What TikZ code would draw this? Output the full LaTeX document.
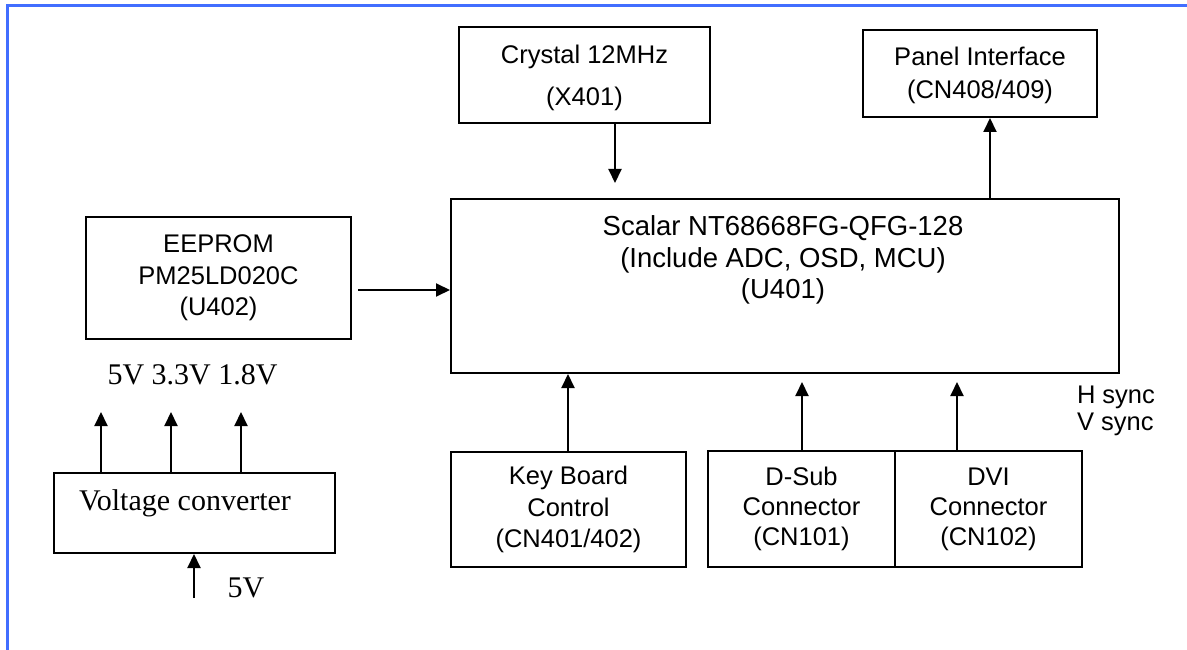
\documentclass[tikz,border=0pt]{standalone}
\usepackage{fontspec}
\setmainfont{Liberation Sans}
\newfontfamily\timesfont{Liberation Serif}
\usetikzlibrary{arrows.meta}
\definecolor{frameblue}{RGB}{65,110,255}
\tikzset{
	block/.style    = {draw, line width=2bp, rectangle, inner sep=0pt, align=center,
		font=\fontsize{25.5bp}{31.5bp}\selectfont},
	chiptext/.style = {align=center, inner sep=0pt, font=\fontsize{27.5bp}{31.5bp}\selectfont},
	signal/.style   = {align=left, inner sep=0pt, font=\fontsize{25.5bp}{27bp}\selectfont},
	serif/.style    = {inner sep=0pt, font=\timesfont\fontsize{30bp}{36bp}\selectfont}
}

\begin{document}
\begin{tikzpicture}[x=1bp, y=-1bp, line width=2bp, >={Triangle[length=14bp,width=13bp]}]
	\useasboundingbox (0,0) rectangle (1187,650);
	\draw[frameblue, line width=3bp] (7,650) -- (7,6) -- (1187,6);

	\draw
	node at (584.5,75) [block, minimum width=251bp, minimum height=96bp] (xtal) {}
	node at (980,73.5) [block, minimum width=234bp, minimum height=87bp] (panel) {}
	node at (785,286) [block, minimum width=668bp, minimum height=174bp] (scalar) {}
	node at (218.5,278) [block, minimum width=265bp, minimum height=122bp] (eeprom) {EEPROM\\PM25LD020C\\(U402)}
	node at (194.5,513) [block, minimum width=281bp, minimum height=80bp] (volt) {}
	node at (568.5,509.5) [block, minimum width=235bp, minimum height=115bp] (key) {Key Board\\Control\\(CN401/402)}
	node at (801.5,509) [block, minimum width=187bp, minimum height=116bp,
		font=\fontsize{25.5bp}{30bp}\selectfont] (dsub) {D-Sub\\Connector\\(CN101)}
	node at (988.5,509) [block, minimum width=187bp, minimum height=116bp,
		font=\fontsize{25.5bp}{30bp}\selectfont] (dvi) {DVI\\Connector\\(CN102)};

	% texts
	\node[chiptext, font=\fontsize{25.5bp}{42bp}\selectfont] (xtaltext) at (584.5,78) {Crystal 12MHz\\(X401)};
	\node[chiptext, font=\fontsize{25.5bp}{33bp}\selectfont] (paneltext) at (980,75.5) {Panel Interface\\(CN408/409)};
	\node[chiptext] (scalartext) at (783,260) {Scalar NT68668FG-QFG-128\\(Include ADC, OSD, MCU)\\(U401)};
	\node[serif] (volttext) at (185,503) {Voltage converter};
	\node[serif] (railtext) at (192.5,375) {5V 3.3V 1.8V};
	\node[serif] (vintext) at (246,588) {5V};
	\node[signal, anchor=west] (synctext) at (1076,411) {H sync\\V sync};

	% connections
	\coordinate (xtalin) at (615,183);
	\coordinate (panelout) at (990,0);
	\coordinate (eepromout) at (358,290);
	\coordinate (keyout) at (568,0);
	\coordinate (dsubin) at (802,382);
	\coordinate (dviin) at (957,382);
	\coordinate (vin) at (194,598);

	\draw[->] (xtalin |- xtal.south) -- (xtalin);
	\draw[->] (panelout |- scalar.north) -- (panelout |- panel.south);
	\draw[->] (eepromout) -- (eepromout -| scalar.west);
	\draw[->] (keyout |- key.north) -- (keyout |- scalar.south);
	\draw[->] (dsubin |- dsub.north) -- (dsubin);
	\draw[->] (dviin |- dvi.north) -- (dviin);
	\draw[->] (vin) -- (vin |- volt.south);
	\foreach \vx [count=\i] in {101,171,241}{
		\coordinate (vout\i) at (\vx,412);
		\draw[->] (vout\i |- volt.north) -- (vout\i);
	}
\end{tikzpicture}
\end{document}
